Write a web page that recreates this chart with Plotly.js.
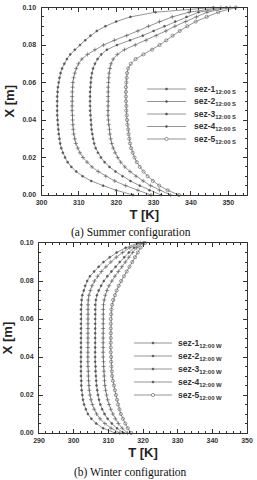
<!DOCTYPE html>
<html>
<head>
<meta charset="utf-8">
<script src="https://cdn.plot.ly/plotly-3.0.1.min.js"></script>
<style>html,body{margin:0;padding:0;background:#fff;}#chart{width:257px;height:480px;}</style>
</head>
<body>
<div id="chart"></div>
<script>
// Wall depth X [m] (shared grid of the profiles)
var posX = [0.0000, 0.0025, 0.0050, 0.0075, 0.0100, 0.0125, 0.0150, 0.0175, 0.0200, 0.0225,
            0.0250, 0.0275, 0.0300, 0.0325, 0.0350, 0.0375, 0.0400, 0.0425, 0.0450, 0.0475,
            0.0500, 0.0525, 0.0550, 0.0575, 0.0600, 0.0625, 0.0650, 0.0675, 0.0700, 0.0725,
            0.0750, 0.0775, 0.0800, 0.0825, 0.0850, 0.0875, 0.0900, 0.0925, 0.0950, 0.0975,
            0.1000];

// (a) Summer configuration, T [K]
var tSummer1 = [324.5, 320.0, 316.5, 313.3, 311.0, 309.3, 308.0, 307.0, 306.3, 305.7,
                305.3, 305.0, 304.8, 304.6, 304.5, 304.4, 304.3, 304.2, 304.2, 304.2,
                304.2, 304.2, 304.3, 304.4, 304.6, 304.8, 305.1, 305.5, 306.1, 306.8,
                307.7, 308.9, 310.3, 311.7, 313.1, 314.8, 317.1, 320.0, 323.8, 330.5,
                346.0];
var tSummer2 = [329.3, 325.8, 322.5, 319.6, 317.2, 315.2, 313.5, 312.2, 311.1, 310.3,
                309.7, 309.2, 308.9, 308.6, 308.5, 308.4, 308.3, 308.3, 308.2, 308.2,
                308.2, 308.2, 308.2, 308.3, 308.4, 308.6, 308.9, 309.3, 309.9, 310.8,
                312.3, 314.3, 316.6, 319.5, 322.8, 325.8, 328.6, 331.6, 335.0, 339.5,
                348.0];
var tSummer3 = [332.0, 328.9, 326.3, 323.8, 321.7, 319.8, 318.2, 316.9, 315.9, 315.1,
                314.5, 314.1, 313.8, 313.6, 313.4, 313.3, 313.2, 313.1, 313.0, 313.0,
                313.0, 313.0, 313.0, 313.1, 313.2, 313.3, 313.5, 313.8, 314.3, 315.0,
                316.0, 317.5, 320.2, 323.7, 327.1, 330.0, 332.9, 335.8, 338.8, 342.0,
                349.5];
var tSummer4 = [334.5, 331.6, 329.2, 327.2, 325.3, 323.7, 322.3, 321.2, 320.4, 319.7,
                319.2, 318.8, 318.5, 318.3, 318.2, 318.0, 317.9, 317.8, 317.8, 317.8,
                317.8, 317.8, 317.8, 317.8, 317.9, 318.0, 318.1, 318.3, 318.6, 319.2,
                320.3, 322.2, 325.1, 328.0, 330.7, 333.3, 335.7, 338.6, 341.5, 344.3,
                350.5];
var tSummer5 = [336.8, 333.8, 331.5, 329.8, 328.4, 327.3, 326.3, 325.5, 324.9, 324.4,
                324.0, 323.7, 323.5, 323.3, 323.2, 323.0, 322.9, 322.8, 322.7, 322.7,
                322.6, 322.6, 322.6, 322.6, 322.7, 322.8, 322.9, 323.2, 323.9, 325.2,
                327.3, 329.6, 331.6, 333.4, 335.1, 337.0, 339.0, 341.3, 344.2, 347.3,
                352.0];

// (b) Winter configuration, T [K]
var tWinter1 = [312.0, 308.5, 306.5, 305.1, 304.1, 303.5, 303.0, 302.7, 302.5, 302.3,
                302.2, 302.2, 302.1, 302.1, 302.1, 302.1, 302.1, 302.1, 302.1, 302.1,
                302.1, 302.1, 302.1, 302.1, 302.1, 302.1, 302.1, 302.2, 302.3, 302.5,
                302.9, 303.3, 303.9, 304.7, 305.9, 307.2, 308.6, 310.4, 312.4, 315.0,
                318.5];
var tWinter2 = [313.3, 310.8, 309.0, 307.6, 306.6, 305.9, 305.4, 305.0, 304.7, 304.5,
                304.4, 304.3, 304.2, 304.2, 304.1, 304.1, 304.1, 304.1, 304.1, 304.1,
                304.1, 304.1, 304.1, 304.1, 304.1, 304.1, 304.1, 304.1, 304.2, 304.4,
                304.8, 305.3, 306.0, 306.9, 308.0, 309.3, 310.7, 312.3, 314.1, 316.2,
                319.2];
var tWinter3 = [314.4, 312.5, 311.0, 309.8, 308.9, 308.2, 307.7, 307.3, 307.0, 306.8,
                306.6, 306.5, 306.4, 306.3, 306.3, 306.2, 306.2, 306.2, 306.2, 306.2,
                306.2, 306.2, 306.2, 306.2, 306.2, 306.2, 306.2, 306.2, 306.4, 306.7,
                307.2, 307.9, 308.7, 309.7, 310.9, 312.1, 313.3, 314.6, 315.9, 317.4,
                319.8];
var tWinter4 = [315.5, 314.0, 312.9, 312.0, 311.3, 310.7, 310.2, 309.8, 309.5, 309.2,
                309.0, 308.9, 308.8, 308.7, 308.6, 308.6, 308.5, 308.5, 308.5, 308.5,
                308.5, 308.5, 308.5, 308.5, 308.5, 308.5, 308.5, 308.6, 308.8, 309.1,
                309.6, 310.2, 311.0, 311.9, 312.9, 313.9, 314.9, 315.9, 317.0, 318.2,
                320.2];
var tWinter5 = [316.6, 315.6, 314.9, 314.2, 313.6, 313.2, 312.8, 312.5, 312.2, 311.9,
                311.6, 311.3, 311.1, 311.0, 310.9, 310.8, 310.8, 310.7, 310.7, 310.7,
                310.7, 310.7, 310.7, 310.7, 310.7, 310.8, 310.9, 311.1, 311.4, 311.9,
                312.4, 313.0, 313.7, 314.5, 315.3, 316.1, 316.9, 317.7, 318.5, 319.3,
                320.6];

var seriesNames = ["sez-1", "sez-2", "sez-3", "sez-4", "sez-5"];
var summerSub = "12:00 S";
var winterSub = "12:00 W";
var xTitle = "T [K]";
var yTitle = "X [m]";
var captionSummer = "(a) Summer configuration";
var captionWinter = "(b) Winter configuration";

var summerSets = [tSummer1, tSummer2, tSummer3, tSummer4, tSummer5];
var winterSets = [tWinter1, tWinter2, tWinter3, tWinter4, tWinter5];

var symbols = ["circle", "cross-thin-open", "circle", "cross-thin-open", "circle-open"];
var sizes = [2.0, 3.0, 2.0, 3.0, 3.2];
var lineCol = "#7a7a7a";
var markCol = "#555555";

var traces = [];
function addSet(sets, xa, ya, sub) {
  sets.forEach(function (t, i) {
    traces.push({
      type: "scatter", mode: "lines+markers",
      x: t, y: posX, xaxis: xa, yaxis: ya,
      name: seriesNames[i] + "<sub>" + sub + "</sub>",
      cliponaxis: false,
      line: {color: lineCol, width: 0.8},
      marker: {symbol: symbols[i], size: sizes[i], color: markCol,
               line: {color: markCol, width: 0.6}},
      showlegend: false
    });
  });
}
addSet(summerSets, "x", "y", summerSub);
addSet(winterSets, "x2", "y2", winterSub);

var W = 257, H = 480;
function px(x) { return x / W; }
function py(y) { return 1 - y / H; }

var tickFont = {family: "Liberation Sans, Arial, sans-serif", size: 7, color: "#333", weight: "bold"};
var titleFont = {family: "Liberation Sans, Arial, sans-serif", size: 13, color: "#222", weight: "bold"};

function xAxis(domain, range, anchor) {
  return {
    domain: domain, range: range, anchor: anchor, dtick: 10, tick0: 300,
    ticks: "inside", ticklen: 4, tickwidth: 1, tickcolor: "#333",
    showline: true, linecolor: "#333", linewidth: 1, mirror: "allticks",
    showgrid: false, zeroline: false, tickfont: tickFont, ticklabelstandoff: 1,
    minor: {dtick: 2, ticks: "inside", ticklen: 2, tickcolor: "#333", tickwidth: 1, showgrid: false},
    title: {text: xTitle, font: titleFont, standoff: 4}
  };
}
function yAxis(domain, anchor) {
  return {
    domain: domain, range: [0, 0.1], anchor: anchor, dtick: 0.02, tick0: 0,
    tickformat: ".2f",
    ticks: "inside", ticklen: 4, tickwidth: 1, tickcolor: "#333",
    showline: true, linecolor: "#333", linewidth: 1, mirror: "allticks",
    showgrid: false, zeroline: false, tickfont: tickFont, ticklabelstandoff: 3,
    minor: {dtick: 0.005, ticks: "inside", ticklen: 2, tickcolor: "#333", tickwidth: 1, showgrid: false},
    title: {text: yTitle, font: titleFont, standoff: 4}
  };
}

var shapes = [];
var annotations = [];
function legend(rows, x0, x1, xt, sub) {
  rows.forEach(function (ry, i) {
    shapes.push({type: "line", xref: "paper", yref: "paper",
      x0: px(x0), x1: px(x1), y0: py(ry), y1: py(ry),
      line: {color: lineCol, width: 0.8}});
    var open = (i === 4);
    var r = open ? 1.6 : 1.0;
    shapes.push({type: "circle", xref: "paper", yref: "paper",
      xsizemode: "pixel", ysizemode: "pixel",
      xanchor: px((x0 + x1) / 2), yanchor: py(ry),
      x0: -r, x1: r, y0: -r, y1: r,
      fillcolor: open ? "#fff" : markCol, line: {color: markCol, width: 0.6}});
    annotations.push({xref: "paper", yref: "paper", x: px(xt), y: py(ry),
      xanchor: "left", yanchor: "middle", showarrow: false,
      text: seriesNames[i] + "<sub>" + sub + "</sub>",
      font: {family: "Liberation Sans, Arial, sans-serif", size: 8.5, color: "#333", weight: "bold"}});
  });
}
legend([89, 101.5, 114, 126.5, 139], 147, 186, 192, summerSub);
legend([343, 356, 369, 382, 395], 134, 172, 176, winterSub);

var capFont = {family: "Liberation Serif, Times New Roman, serif", size: 11.5, color: "#111"};
annotations.push({xref: "paper", yref: "paper", x: px(130.5), y: py(232), xanchor: "center", yanchor: "middle",
  showarrow: false, text: captionSummer, font: capFont});
annotations.push({xref: "paper", yref: "paper", x: px(130.5), y: py(472), xanchor: "center", yanchor: "middle",
  showarrow: false, text: captionWinter, font: capFont});

var layout = {
  width: W, height: H,
  margin: {l: 0, r: 0, t: 0, b: 0},
  paper_bgcolor: "#fff", plot_bgcolor: "#fff",
  showlegend: false,
  xaxis: xAxis([px(41.5), px(247)], [300, 355], "y"),
  yaxis: yAxis([py(195), py(7.5)], "x"),
  xaxis2: xAxis([px(39), px(247)], [290, 350], "y2"),
  yaxis2: yAxis([py(433), py(243)], "x2"),
  shapes: shapes,
  annotations: annotations
};

Plotly.newPlot("chart", traces, layout, {staticPlot: true, displayModeBar: false});
</script>
</body>
</html>
